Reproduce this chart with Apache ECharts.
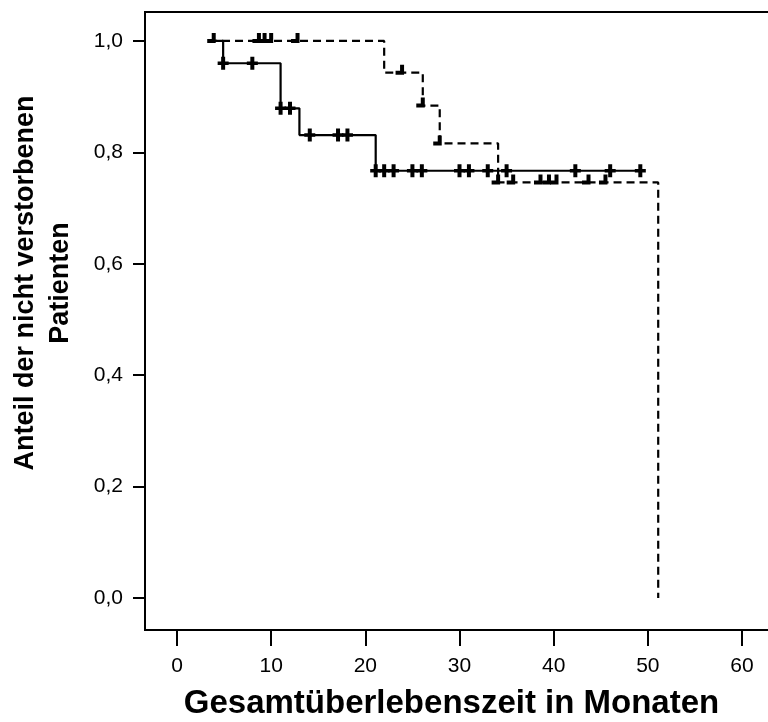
<!DOCTYPE html>
<html>
<head>
<meta charset="utf-8">
<script src="https://cdn.jsdelivr.net/npm/echarts@6/dist/echarts.min.js"></script>
<style>
  html, body { margin: 0; padding: 0; background: #fff; }
  #chart { width: 768px; height: 722px; }
</style>
</head>
<body>
<div id="chart"></div>
<script>
// Kaplan-Meier Schritte (Zeit in Monaten, Anteil)
const solidTimes = [3.7, 4.9, 11.0, 13.0, 21.1, 49.3];
const solidSurv = [1.0, 0.96, 0.879, 0.831, 0.767, 0.767];
const dashedTimes = [3.4, 22.0, 26.1, 27.9, 34.1, 51.1];
const dashedSurv = [1.0, 0.943, 0.884, 0.816, 0.746, 0.0];

// zensierte Fälle
const solidCensorTimes = [4.9, 8.0, 11.0, 12.0, 14.1, 17.1, 18.1, 21.1, 22.0, 23.0, 25.0, 26.0, 30.0, 31.0, 33.0, 35.0, 42.3, 46.0, 49.2];
const solidCensorSurv = [0.96, 0.96, 0.879, 0.879, 0.831, 0.831, 0.831, 0.767, 0.767, 0.767, 0.767, 0.767, 0.767, 0.767, 0.767, 0.767, 0.767, 0.767, 0.767];
const dashedCensorTimes = [3.9, 8.7, 9.3, 10.0, 12.8, 23.9, 26.1, 27.9, 34.1, 35.7, 38.6, 39.5, 40.3, 43.7, 45.5];
const dashedCensorSurv = [1.0, 1.0, 1.0, 1.0, 1.0, 0.943, 0.884, 0.816, 0.746, 0.746, 0.746, 0.746, 0.746, 0.746, 0.746];

const xTicks = [0, 10, 20, 30, 40, 50, 60];
const yTicks = [0, 0.2, 0.4, 0.6, 0.8, 1.0];

const FONT = '"Liberation Sans", Arial, sans-serif';

function zip(xs, ys) {
    return xs.map((x, i) => [x, ys[i]]);
}

const plusPath = 'path://M-2,-6.5 L2,-6.5 L2,-1.75 L5.5,-1.75 L5.5,1.75 L2,1.75 L2,6.5 L-2,6.5 L-2,1.75 L-5.5,1.75 L-5.5,-1.75 L-2,-1.75 Z';
const halfPath = 'path://M-2,-8 L2,-8 L2,2 L-6.5,2 L-6.5,-2 L-2,-2 Z';

const chart = echarts.init(document.getElementById('chart'));
chart.setOption({
    backgroundColor: '#fff',
    animation: false,
    grid: {
        left: 145, top: 12, right: -5, bottom: 92,
        outerBoundsMode: 'none',
        containLabel: false,
        show: true, borderColor: '#000', borderWidth: 2, backgroundColor: 'transparent'
    },
    xAxis: {
        type: 'value',
        min: -3.398,
        max: 63.29,
        name: 'Gesamtüberlebenszeit in Monaten',
        nameLocation: 'middle',
        nameGap: 57,
        nameTextStyle: { fontFamily: FONT, fontSize: 33, fontWeight: 'bold', color: '#000', padding: [0, 15, 0, 0] },
        axisLine: { show: true, onZero: false, lineStyle: { color: '#000', width: 2 } },
        axisTick: { show: true, length: 16, customValues: xTicks, lineStyle: { color: '#000', width: 2 } },
        axisLabel: { customValues: xTicks, margin: 26, fontFamily: FONT, fontSize: 21, color: '#000' },
        splitLine: { show: false }
    },
    yAxis: {
        type: 'value',
        min: -0.0575,
        max: 1.052,
        name: 'Anteil der nicht verstorbenen\nPatienten',
        nameLocation: 'middle',
        nameRotate: 90,
        nameGap: 67,
        nameTextStyle: { fontFamily: FONT, fontSize: 27, fontWeight: 'bold', color: '#000', lineHeight: 35, padding: [0, 0, 0, 76] },
        axisLine: { show: true, onZero: false, lineStyle: { color: '#000', width: 2 } },
        axisTick: { show: true, length: 12, customValues: yTicks, lineStyle: { color: '#000', width: 2 } },
        axisLabel: {
            customValues: yTicks, margin: 22, fontFamily: FONT, fontSize: 21, color: '#000',
            formatter: (v) => v.toFixed(1).replace('.', ',')
        },
        splitLine: { show: false }
    },
    series: [
        {
            type: 'line', step: 'end', symbol: 'none',
            data: zip(solidTimes, solidSurv),
            lineStyle: { color: '#000', width: 2.2 }
        },
        {
            type: 'line', step: 'end', symbol: 'none',
            data: zip(dashedTimes, dashedSurv),
            lineStyle: { color: '#000', width: 2.2, type: [8, 5] }
        },
        {
            type: 'scatter',
            data: zip(solidCensorTimes, solidCensorSurv),
            symbol: plusPath, symbolSize: [11, 13],
            itemStyle: { color: '#000', opacity: 1 }
        },
        {
            type: 'scatter',
            data: zip(dashedCensorTimes, dashedCensorSurv),
            symbol: halfPath, symbolSize: [8.5, 10], symbolOffset: [-2.25, -3],
            itemStyle: { color: '#000', opacity: 1 }
        }
    ]
});
</script>
</body>
</html>
